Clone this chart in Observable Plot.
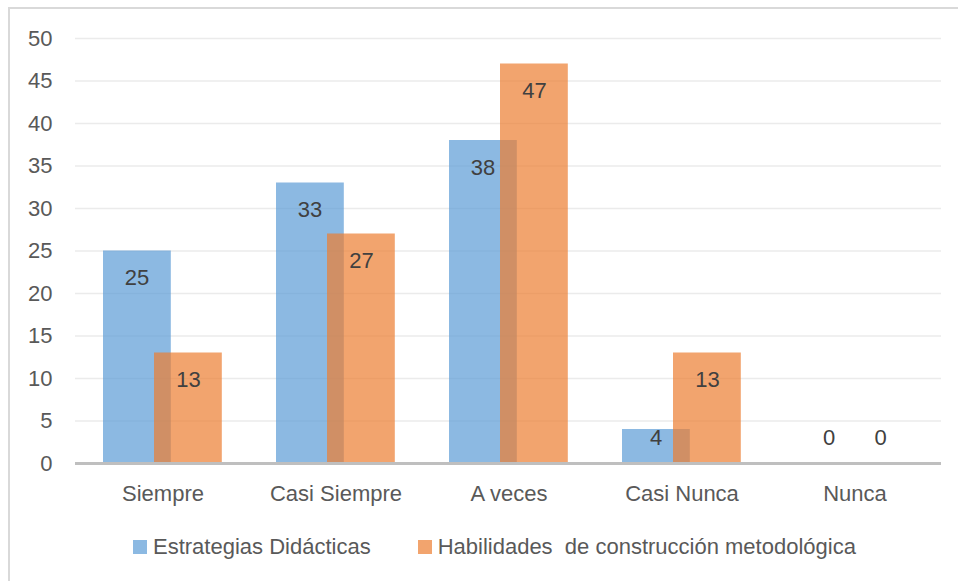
<!DOCTYPE html>
<html><head><meta charset="utf-8">
<script src="https://cdn.jsdelivr.net/npm/d3@7"></script>
<script src="https://cdn.jsdelivr.net/npm/@observablehq/plot@0.6"></script>
<style>
body{margin:0;background:#fff;font-family:"Liberation Sans",Arial,sans-serif;width:958px;height:581px;overflow:hidden;position:relative;}
#frame{position:absolute;left:8px;top:7px;width:1000px;height:1000px;border:2px solid #d9d9d9;box-sizing:border-box;}
#chart{position:absolute;left:0;top:0;}
#legend{position:absolute;left:133px;top:536px;display:flex;align-items:center;font-size:22px;color:#595959;line-height:22px;white-space:pre;}
.sw{width:14px;height:14px;display:inline-block;margin-right:6px;}
.item{display:flex;align-items:center;}
</style></head>
<body>
<div id="frame"></div>
<div id="chart"></div>
<div id="legend"></div>
<script>
const categories = ["Siempre", "Casi Siempre", "A veces", "Casi Nunca", "Nunca"];
const estrategias = [25, 33, 38, 4, 0];
const habilidades = [13, 27, 47, 13, 0];
const yTicks = [0, 5, 10, 15, 20, 25, 30, 35, 40, 45, 50];
const seriesNames = ["Estrategias Didácticas", "Habilidades  de construcción metodológica"];
const seriesColors = ["#5B9BD5", "#ED7D31"];

const data = categories.map((c, i) => ({cat: c, a: estrategias[i], b: habilidades[i]}));
const font = '"Liberation Sans", Arial, sans-serif';

const chart = Plot.plot({
  width: 958, height: 520,
  marginLeft: 75, marginRight: 17, marginTop: 38, marginBottom: 57,
  style: {fontFamily: font, fontSize: "22px", color: "#595959", background: "transparent"},
  x: {domain: categories, padding: 0, label: null},
  y: {domain: [0, 50], label: null},
  marks: [
    Plot.ruleY(yTicks.filter(t => t > 0), {stroke: "#ebebeb", strokeWidth: 1.5}),
    Plot.axisY({ticks: yTicks, tickSize: 0, tickPadding: 23, label: null, tickFormat: d => String(d)}),
    Plot.axisX({tickSize: 0, tickPadding: 22, label: null}),
    Plot.barY(data, {x: "cat", y: "a", fill: seriesColors[0], fillOpacity: 0.7, insetLeft: 27, insetRight: 78.2}),
    Plot.barY(data, {x: "cat", y: "b", fill: seriesColors[1], fillOpacity: 0.7, insetLeft: 78, insetRight: 27.2}),
    Plot.ruleY([0], {stroke: "#bfbfbf", strokeWidth: 3}),
    Plot.text(data.filter(d => d.a >= 6), {x: "cat", y: "a", text: d => String(d.a), dx: -26, dy: 27, fill: "#404040", fontSize: 22}),
    Plot.text(data.filter(d => d.a < 6), {x: "cat", y: () => 0, text: d => String(d.a), dx: -26, dy: -26, fill: "#404040", fontSize: 22}),
    Plot.text(data.filter(d => d.b >= 6), {x: "cat", y: "b", text: d => String(d.b), dx: 25.5, dy: 27, fill: "#404040", fontSize: 22}),
    Plot.text(data.filter(d => d.b < 6), {x: "cat", y: () => 0, text: d => String(d.b), dx: 25.5, dy: -26, fill: "#404040", fontSize: 22})
  ]
});
document.getElementById("chart").appendChild(chart);

const legend = document.getElementById("legend");
seriesNames.forEach((name, i) => {
  const item = document.createElement("div");
  item.className = "item";
  if (i > 0) item.style.marginLeft = "47px";
  const sw = document.createElement("span");
  sw.className = "sw";
  sw.style.background = seriesColors[i];
  sw.style.opacity = 0.7;
  const t = document.createElement("span");
  t.textContent = name;
  item.appendChild(sw);
  item.appendChild(t);
  legend.appendChild(item);
});
</script>
</body></html>
